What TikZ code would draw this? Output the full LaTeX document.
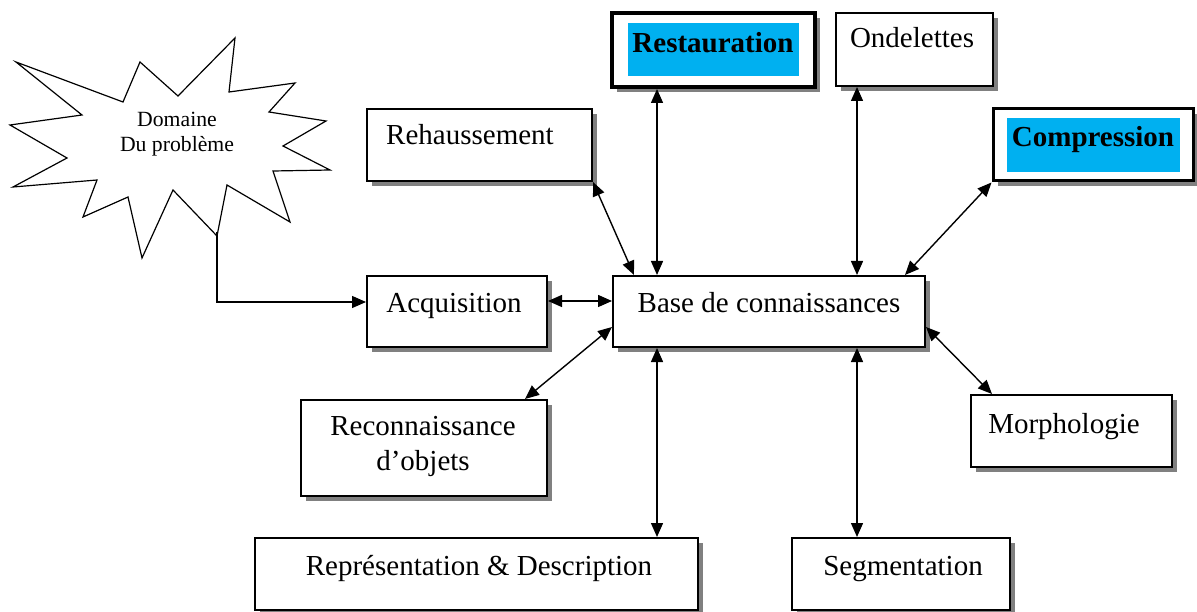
\documentclass[tikz,border=0pt]{standalone}
\usepackage{fontspec}
\setmainfont{Liberation Serif}
\usetikzlibrary{arrows.meta,shadows,calc}
\definecolor{cyanbox}{RGB}{0,176,240}
\definecolor{shadowgray}{RGB}{128,128,128}
\tikzset{
  box/.style={draw=black, line width=2pt, fill=white, rectangle, inner sep=0pt,
    drop shadow={shadow xshift=5pt, shadow yshift=-5pt, fill=shadowgray, opacity=1}},
  lbl/.style={font=\fontsize{29}{35}\selectfont, anchor=base, inner sep=0pt, align=center},
  hl/.style={fill=cyanbox, draw=none, rectangle, inner sep=0pt},
  dbl/.style={{Triangle[length=14pt,width=12pt]}-{Triangle[length=14pt,width=12pt]}, line width=1.4pt},
  sgl/.style={-{Triangle[length=14pt,width=12pt]}, line width=1.4pt},
}
\begin{document}
\begin{tikzpicture}[x=1pt,y=-1pt]
\useasboundingbox (0,0) rectangle (1197,612);

% star
\draw[line width=1.2pt, fill=white] (16,62) -- (123,102) -- (140,62) -- (178,96) -- (235,38) -- (229,92)
  -- (295,83) -- (269,112) -- (326,121) -- (283,146) -- (330,170) -- (273,171) -- (290,222)
  -- (227,185) -- (217,236) -- (173,190) -- (142,258) -- (128,197) -- (83,217) -- (97,180)
  -- (13,187) -- (67,158) -- (10,125) -- (82,115) -- cycle;
\coordinate (starout) at (217,232);
\node[lbl, font=\fontsize{21.7}{25}\selectfont] (dom) at (177,152) {Domaine\\Du problème};

% boxes
\node[box, line width=4pt, minimum width=203pt, minimum height=74pt] (resto) at (713.5,50) {};
\node[hl, minimum width=171pt, minimum height=53pt] (resto-hl) at (713.5,49.5) {};
\node[lbl, font=\fontsize{29}{35}\selectfont\bfseries] (resto-t) at (713,53) {Restauration};

\node[box, minimum width=157pt, minimum height=73pt] (ondel) at (914.5,49.5) {};
\node[lbl] (ondel-t) at (912,48) {Ondelettes};

\node[box, line width=3pt, minimum width=200pt, minimum height=72pt] (compr) at (1093,145) {};
\node[hl, minimum width=173pt, minimum height=54pt] (compr-hl) at (1093.5,145) {};
\node[lbl, font=\fontsize{29}{35}\selectfont\bfseries] (compr-t) at (1093,147) {Compression};

\node[box, minimum width=225pt, minimum height=72pt] (rehau) at (479.5,145) {};
\node[lbl] (rehau-t) at (470,145) {Rehaussement};

\node[box, minimum width=180pt, minimum height=71pt] (acqui) at (457,311.5) {};
\node[lbl] (acqui-t) at (454,313) {Acquisition};

\node[box, minimum width=312pt, minimum height=71pt] (base) at (769,311.5) {};
\node[lbl] (base-t) at (769,313) {Base de connaissances};

\node[box, minimum width=246pt, minimum height=96pt] (recon) at (424,448) {};
\node[lbl] (recon-t) at (423,470) {Reconnaissance\\d’objets};

\node[box, minimum width=201pt, minimum height=72pt] (morph) at (1071.5,431) {};
\node[lbl] (morph-t) at (1064,433) {Morphologie};

\node[box, minimum width=443pt, minimum height=72pt] (repre) at (476.5,574) {};
\node[lbl] (repre-t) at (479,575) {Représentation \& Description};

\node[box, minimum width=218pt, minimum height=72pt] (segme) at (901,574) {};
\node[lbl] (segme-t) at (903,575) {Segmentation};

% connectors
\draw[dbl] (resto.south -| 657,0) -- (base.north -| 657,0);
\draw[dbl] (ondel.south -| 857,0) -- (base.north -| 857,0);
\draw[dbl] (compr.south west) -- (base.north -| 905,0);
\draw[dbl] (rehau.south east) -- (base.north -| 634,0);
\draw[dbl] (acqui.east |- 0,301) -- (base.west |- 0,301);
\draw[dbl] (recon.north -| 525,0) -- (base.west |- 0,327);
\draw[dbl] (base.east |- 0,327) -- (morph.north -| 992,0);
\draw[dbl] (base.south -| 657,0) -- (repre.north -| 657,0);
\draw[dbl] (base.south -| 857,0) -- (segme.north -| 857,0);
\draw[sgl] (starout) |- (acqui.west |- 0,302);
\end{tikzpicture}
\end{document}
